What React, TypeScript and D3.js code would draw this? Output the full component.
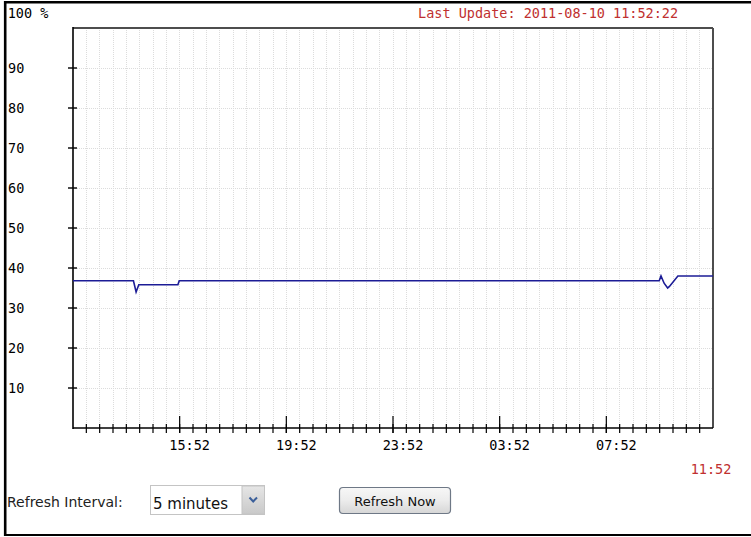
import React from "react";
import * as d3 from "d3";

// readings of the 24h load graph (percent)
const sampleTimes = [
  "2011-08-09 11:52",
  "2011-08-09 14:08",
  "2011-08-09 14:14",
  "2011-08-09 14:20",
  "2011-08-09 15:48",
  "2011-08-09 15:51",
  "2011-08-10 09:51",
  "2011-08-10 09:55",
  "2011-08-10 10:02",
  "2011-08-10 10:10",
  "2011-08-10 10:14",
  "2011-08-10 10:33",
  "2011-08-10 11:52",
];
const sampleValues = [36.8, 36.8, 34, 35.8, 35.8, 36.8, 36.8, 38, 36.2, 35, 35.4, 38, 38];

const rangeStart = "2011-08-09 11:52";
const rangeEnd = "2011-08-10 11:52";
const majorTicks = [
  "2011-08-09 15:52",
  "2011-08-09 19:52",
  "2011-08-09 23:52",
  "2011-08-10 03:52",
  "2011-08-10 07:52",
];
const yTicks = [10, 20, 30, 40, 50, 60, 70, 80, 90];
const lastUpdate = "Last Update: 2011-08-10 11:52:22";
const refreshOptions = ["5 minutes"];

const parse = d3.timeParse("%Y-%m-%d %H:%M");
const fmt = d3.timeFormat("%H:%M");
const MONO = "'DejaVu Sans Mono', monospace";
const SANS = "'DejaVu Sans', Verdana, sans-serif";

const App = () => {
  const W = 751;
  const H = 537;
  const left = 73;
  const right = 713;
  const top = 28;
  const bottom = 428;

  const start = parse(rangeStart) as Date;
  const end = parse(rangeEnd) as Date;
  const x = d3.scaleTime().domain([start, end]).range([left, right]);
  const y = d3.scaleLinear().domain([0, 100]).range([bottom, top]);

  const data: [Date, number][] = sampleTimes.map((t, i) => [parse(t) as Date, sampleValues[i]]);
  const path = d3
    .line<[Date, number]>()
    .x((d) => x(d[0]))
    .y((d) => y(d[1]))(data);

  // half-hour ticks counted from the range start
  const minor = d3.range(1, 48).map((k) => d3.timeMinute.offset(start, 30 * k));
  const majors = majorTicks.map((t) => parse(t) as Date);

  return (
    <svg
      width={W}
      height={H}
      style={{ position: "absolute", left: 0, top: 0, background: "#fff" }}
    >
      <defs>
        <linearGradient id="btn" x1="0" y1="0" x2="0" y2="1">
          <stop offset="0" stopColor="#f7f7f7" />
          <stop offset="0.5" stopColor="#ececec" />
          <stop offset="1" stopColor="#d6d6d6" />
        </linearGradient>
        <linearGradient id="drop" x1="0" y1="0" x2="0" y2="1">
          <stop offset="0" stopColor="#e6e6e6" />
          <stop offset="1" stopColor="#c9c9c9" />
        </linearGradient>
      </defs>

      {/* outer frame */}
      <line x1={4} x2={W} y1={2.2} y2={2.2} stroke="#000" strokeWidth={2.6} />
      <line x1={5.2} x2={5.2} y1={1} y2={536} stroke="#000" strokeWidth={2.6} />
      <line x1={4} x2={W} y1={535} y2={535} stroke="#000" strokeWidth={2.2} />

      {/* grid */}
      <g shapeRendering="crispEdges" stroke="#dcdcdc" strokeDasharray="1,1">
        {minor.map((d, i) => (
          <line key={"v" + i} x1={x(d)} x2={x(d)} y1={top} y2={bottom} />
        ))}
        {yTicks.map((v) => (
          <line key={"h" + v} x1={left} x2={right} y1={y(v)} y2={y(v)} />
        ))}
      </g>

      {/* plot frame */}
      <line x1={left} x2={right} y1={top} y2={top} stroke="#4d4d4d" strokeWidth={2} />
      <line x1={right} x2={right} y1={top} y2={bottom} stroke="#4d4d4d" strokeWidth={2} />
      <line x1={left} x2={left} y1={top - 1} y2={bottom + 1} stroke="#000" strokeWidth={1.6} />
      <line x1={left} x2={right} y1={bottom} y2={bottom} stroke="#000" strokeWidth={1.6} />

      {/* y axis */}
      {yTicks.map((v) => (
        <g key={"y" + v}>
          <line x1={left - 5} x2={left + 4} y1={y(v)} y2={y(v)} stroke="#000" strokeWidth={1.4} />
          <text x={8} y={y(v) + 4.5} fontFamily={MONO} fontSize={13.5} fill="#000">
            {v}
          </text>
        </g>
      ))}
      <text x={7.7} y={18} fontFamily={MONO} fontSize={13.5} fill="#000">
        100 %
      </text>

      {/* x axis */}
      {minor.map((d, i) => (
        <line key={"t" + i} x1={x(d)} x2={x(d)} y1={bottom - 4} y2={bottom + 5} stroke="#000" strokeWidth={1.2} />
      ))}
      {majors.map((d, i) => (
        <g key={"m" + i}>
          <line x1={x(d)} x2={x(d)} y1={bottom - 12} y2={bottom + 5} stroke="#000" strokeWidth={1.2} />
          <text x={x(d) + 10} y={450} textAnchor="middle" fontFamily={MONO} fontSize={13.5} fill="#000">
            {fmt(d)}
          </text>
        </g>
      ))}
      <text x={711} y={474} textAnchor="middle" fontFamily={MONO} fontSize={13.5} fill="#c0302f">
        {fmt(end)}
      </text>

      <text x={418} y={18} fontFamily={MONO} fontSize={13.5} fill="#c0302f">
        {lastUpdate}
      </text>

      {/* series */}
      <path d={path || ""} fill="none" stroke="#1c1c96" strokeWidth={1.6} />

      {/* controls */}
      <text x={7} y={507} fontFamily={SANS} fontSize={14} fill="#222">
        Refresh Interval:
      </text>
      <rect x={150.5} y={485.5} width={114} height={29} fill="#fff" stroke="#c4c4c4" />
      <rect x={242} y={486} width={22.5} height={28} fill="url(#drop)" stroke="#c4c4c4" />
      <path d="M249.5,497.5 L253.2,501.5 L257,497.5" fill="none" stroke="#3b5f9a" strokeWidth={2} />
      <text x={153} y={509} fontFamily={SANS} fontSize={15} fill="#111">
        {refreshOptions[0]}
      </text>
      <rect x={339.5} y={487.5} width={111} height={26} rx={3.5} fill="url(#btn)" stroke="#6e7886" strokeWidth={1.2} />
      <text x={395} y={506} textAnchor="middle" fontFamily={SANS} fontSize={13} fill="#111">
        Refresh Now
      </text>
    </svg>
  );
};

export default App;
